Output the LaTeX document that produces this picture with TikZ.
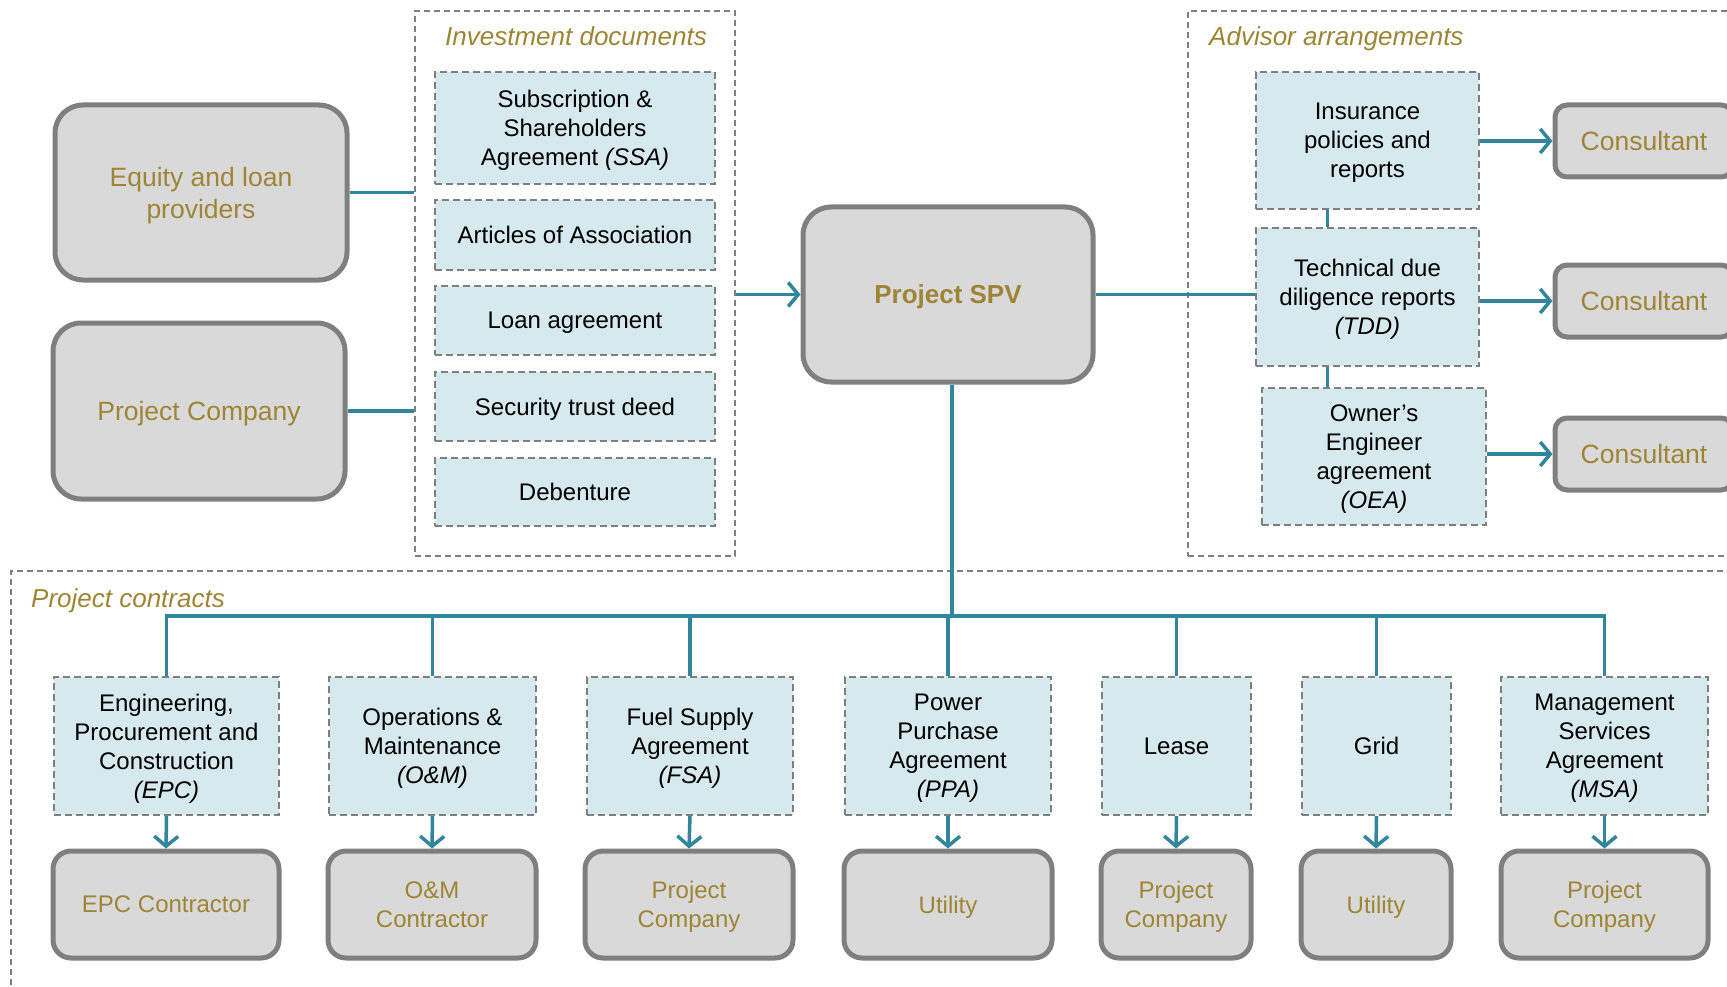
\documentclass[tikz,border=0pt]{standalone}
\usepackage{fontspec}
\setmainfont{Liberation Sans}
\usetikzlibrary{arrows.meta}
\definecolor{tealc}{HTML}{31859C}
\definecolor{goldc}{HTML}{9E8535}
\definecolor{boxgray}{HTML}{D9D9D9}
\definecolor{bordergray}{HTML}{7F7F7F}
\definecolor{docblue}{HTML}{D6E9EE}
\begin{document}
\begin{tikzpicture}[x=1pt,y=-1pt,
  party/.style={draw=bordergray, fill=boxgray, line width=5pt, rounded corners=28pt,
    text=goldc, align=center, font=\fontsize{26.5}{32}\selectfont, inner sep=0pt, text depth=0pt},
  smallparty/.style={party, rounded corners=18pt, font=\fontsize{24}{29}\selectfont},
  cons/.style={party, rounded corners=12pt, minimum width=178pt, minimum height=72pt},
  doc/.style={draw=bordergray, fill=docblue, line width=2pt, dash pattern=on 7pt off 4pt,
    align=center, font=\fontsize{24}{29}\selectfont, inner sep=0pt, text depth=0pt},
  grp/.style={draw=bordergray, line width=1.5pt, dash pattern=on 6pt off 4pt, inner sep=0pt},
  grptitle/.style={text=goldc, font=\fontsize{26}{31}\selectfont\itshape, inner sep=0pt, text depth=0pt},
  conn/.style={draw=tealc, line width=3.5pt},
  arr/.style={conn, -{Straight Barb[length=10pt,width=24pt,line width=3.5pt]}}
]
\useasboundingbox (0,0) rectangle (1727,987);
\clip (0,0) rectangle (1727,987);

% group frames
\node[grp, minimum width=320pt, minimum height=545pt] (inv) at (575,283.5) {};
\node[grp, minimum width=557pt, minimum height=545pt] (adv) at (1466.5,283.5) {};
\node[grp, minimum width=1734pt, minimum height=434pt] (pcg) at (878,788) {};
\node[grptitle] (invt) at (576,36) {Investment documents};
\node[grptitle, anchor=west] (advt) at (1209,36) {Advisor arrangements};
\node[grptitle, anchor=west] (pct) at (31,598) {Project contracts};

% left parties
\node[party, minimum width=292pt, minimum height=175pt] (eq) at (201,192.5) {Equity and loan\\providers};
\node[party, minimum width=292pt, minimum height=176pt] (pc) at (199,411) {Project Company};

% investment documents
\node[doc, minimum width=280pt, minimum height=112pt] (ssa) at (575,128) {Subscription \&\\Shareholders\\Agreement \textit{(SSA)}};
\node[doc, minimum width=280pt, minimum height=70pt] (aoa) at (575,235) {Articles of Association};
\node[doc, minimum width=280pt, minimum height=69pt] (loan) at (575,320.5) {Loan agreement};
\node[doc, minimum width=280pt, minimum height=69pt] (std) at (575,406.5) {Security trust deed};
\node[doc, minimum width=280pt, minimum height=68pt] (deb) at (575,492) {Debenture};

% SPV
\node[party, minimum width=290pt, minimum height=175pt, font=\fontsize{26}{31}\selectfont\bfseries] (spv) at (948,294.5) {Project SPV};

% advisor docs
\node[doc, minimum width=223pt, minimum height=137pt] (ins) at (1367.5,140.5) {Insurance\\policies and\\reports};
\node[doc, minimum width=223pt, minimum height=138pt] (tdd) at (1367.5,297) {Technical due\\diligence reports\\\textit{(TDD)}};
\node[doc, minimum width=224pt, minimum height=137pt] (oea) at (1374,456.5) {Owner’s\\Engineer\\agreement\\\textit{(OEA)}};

\node[cons] (cn1) at (1644,141) {Consultant};
\node[cons] (cn2) at (1644,301) {Consultant};
\node[cons] (cn3) at (1644,454) {Consultant};

% contracts
\node[doc, minimum width=225pt, minimum height=138pt] (c1) at (166.5,746) {Engineering,\\Procurement and\\Construction\\\textit{(EPC)}};
\node[doc, minimum width=207pt, minimum height=138pt] (c2) at (432.5,746) {Operations \&\\Maintenance\\\textit{(O\&M)}};
\node[doc, minimum width=206pt, minimum height=138pt] (c3) at (690,746) {Fuel Supply\\Agreement\\\textit{(FSA)}};
\node[doc, minimum width=206pt, minimum height=138pt] (c4) at (948,746) {Power\\Purchase\\Agreement\\\textit{(PPA)}};
\node[doc, minimum width=149pt, minimum height=138pt] (c5) at (1176.5,746) {Lease};
\node[doc, minimum width=149pt, minimum height=138pt] (c6) at (1376.5,746) {Grid};
\node[doc, minimum width=207pt, minimum height=138pt] (c7) at (1604.5,746) {Management\\Services\\Agreement\\\textit{(MSA)}};

\node[smallparty, minimum width=226pt, minimum height=107pt] (b1) at (166,904.5) {EPC Contractor};
\node[smallparty, minimum width=208pt, minimum height=107pt] (b2) at (432,904.5) {O\&M\\Contractor};
\node[smallparty, minimum width=208pt, minimum height=107pt] (b3) at (689,904.5) {Project\\Company};
\node[smallparty, minimum width=208pt, minimum height=107pt] (b4) at (948,904.5) {Utility};
\node[smallparty, minimum width=150pt, minimum height=107pt] (b5) at (1176,904.5) {Project\\Company};
\node[smallparty, minimum width=150pt, minimum height=107pt] (b6) at (1376,904.5) {Utility};
\node[smallparty, minimum width=207pt, minimum height=107pt] (b7) at (1604.5,904.5) {Project\\Company};

% connectors
\draw[conn] (eq.east) -- (eq.east -| inv.west);
\draw[conn] (pc.east) -- (pc.east -| inv.west);
\draw[arr] (spv.west -| inv.east) -- (spv.west);
\draw[conn] (spv.east) -- (spv.east -| tdd.west);
\draw[conn] ([xshift=-40pt]ins.south) -- ([xshift=-40pt]ins.south |- tdd.north);
\draw[conn] ([xshift=-40pt]tdd.south) -- ([xshift=-40pt]tdd.south |- oea.north);
\draw[arr] (cn1.west -| ins.east) -- (cn1.west);
\draw[arr] (cn2.west -| tdd.east) -- (cn2.west);
\draw[arr] (cn3.west -| oea.east) -- (cn3.west);

\coordinate (bus) at (166,616);
\draw[conn] ([xshift=4pt]spv.south) -- ([xshift=4pt]spv.south |- bus);
\draw[conn] (c1.north) -- (c1.north |- bus) -- (c7.north |- bus) -- (c7.north);
\foreach \c in {c2,c3,c4,c5,c6} {
  \draw[conn] (\c.north |- bus) -- (\c.north);
}
\foreach \c/\b in {c1/b1,c2/b2,c3/b3,c4/b4,c5/b5,c6/b6,c7/b7} {
  \draw[arr] (\c.south) -- (\b.north);
}
\end{tikzpicture}
\end{document}
